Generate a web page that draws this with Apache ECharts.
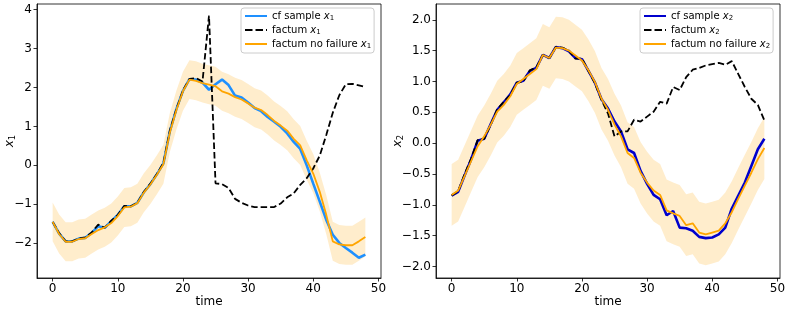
<!DOCTYPE html>
<html><head><meta charset="utf-8">
<script src="https://cdn.jsdelivr.net/npm/echarts@6/dist/echarts.min.js"></script>
<style>html,body{margin:0;padding:0;background:#fff}#c{width:789px;height:313px}</style>
</head><body><div id="c"></div>
<script>
const times = [0,1,2,3,4,5,6,7,8,9,10,11,12,13,14,15,16,17,18,19,20,21,22,23,24,25,26,27,28,29,30,31,32,33,34,35,36,37,38,39,40,41,42,43,44,45,46,47,48];

// left panel (x1)
const cfSample1 = [-1.45,-1.75,-1.95,-1.95,-1.88,-1.86,-1.73,-1.56,-1.60,-1.43,-1.27,-1.05,-1.05,-0.96,-0.69,-0.48,-0.23,0.05,0.88,1.45,1.91,2.21,2.20,2.12,1.94,2.08,2.20,2.06,1.79,1.74,1.61,1.47,1.39,1.24,1.12,0.99,0.82,0.60,0.42,0.00,-0.47,-0.93,-1.40,-1.78,-1.99,-2.12,-2.24,-2.37,-2.29];
const factum1 = [-1.45,-1.74,-1.95,-1.95,-1.88,-1.85,-1.72,-1.52,-1.60,-1.42,-1.27,-1.04,-1.05,-0.96,-0.68,-0.47,-0.22,0.06,0.90,1.45,1.92,2.22,2.24,2.15,3.84,-0.46,-0.48,-0.58,-0.86,-0.96,-1.03,-1.07,-1.07,-1.07,-1.07,-0.98,-0.82,-0.72,-0.50,-0.33,-0.08,0.25,0.78,1.35,1.80,2.08,2.09,2.05,2.01];
const noFailure1 = [-1.45,-1.76,-1.96,-1.96,-1.89,-1.87,-1.76,-1.66,-1.59,-1.48,-1.30,-1.08,-1.06,-0.97,-0.70,-0.49,-0.24,0.03,0.85,1.42,1.90,2.20,2.17,2.11,2.07,2.03,1.90,1.84,1.75,1.69,1.59,1.48,1.42,1.29,1.14,1.02,0.89,0.68,0.51,0.13,-0.21,-0.68,-1.27,-1.95,-2.03,-2.05,-2.05,-1.95,-1.84];
const bandLow1 = [-1.95,-2.26,-2.46,-2.46,-2.39,-2.37,-2.26,-2.16,-2.09,-1.98,-1.80,-1.58,-1.56,-1.47,-1.20,-0.99,-0.74,-0.47,0.35,0.92,1.40,1.70,1.67,1.61,1.57,1.53,1.40,1.34,1.25,1.19,1.09,0.98,0.92,0.79,0.64,0.52,0.39,0.18,0.01,-0.37,-0.71,-1.18,-1.77,-2.45,-2.53,-2.55,-2.55,-2.45,-2.34];
const bandHigh1 = [-0.95,-1.26,-1.46,-1.46,-1.39,-1.37,-1.26,-1.16,-1.09,-0.98,-0.80,-0.58,-0.56,-0.47,-0.20,0.01,0.26,0.53,1.35,1.92,2.40,2.70,2.67,2.61,2.57,2.53,2.40,2.34,2.25,2.19,2.09,1.98,1.92,1.79,1.64,1.52,1.39,1.18,1.01,0.63,0.29,-0.18,-0.77,-1.45,-1.53,-1.55,-1.55,-1.45,-1.34];

// right panel (x2)
const cfSample2 = [-0.85,-0.79,-0.52,-0.26,0.04,0.07,0.31,0.54,0.66,0.79,0.98,1.01,1.17,1.22,1.43,1.38,1.56,1.54,1.49,1.38,1.36,1.17,0.98,0.71,0.56,0.35,0.19,-0.10,-0.16,-0.45,-0.66,-0.84,-0.91,-1.17,-1.10,-1.37,-1.38,-1.42,-1.52,-1.54,-1.53,-1.48,-1.37,-1.06,-0.85,-0.64,-0.37,-0.10,0.07];
const factum2 = [-0.85,-0.78,-0.50,-0.25,0.05,0.07,0.30,0.55,0.67,0.78,0.98,1.00,1.18,1.23,1.43,1.38,1.56,1.55,1.50,1.37,1.37,1.17,0.97,0.70,0.48,0.11,0.19,0.19,0.38,0.35,0.43,0.51,0.67,0.64,0.91,0.86,1.07,1.19,1.22,1.26,1.28,1.30,1.27,1.33,1.12,0.91,0.72,0.62,0.37];
const noFailure2 = [-0.84,-0.77,-0.53,-0.29,-0.05,0.11,0.30,0.51,0.62,0.76,0.96,1.04,1.12,1.20,1.43,1.38,1.55,1.54,1.50,1.42,1.34,1.18,0.99,0.72,0.54,0.30,0.11,-0.16,-0.24,-0.48,-0.64,-0.77,-0.84,-1.09,-1.14,-1.18,-1.33,-1.30,-1.45,-1.48,-1.45,-1.42,-1.30,-1.12,-0.90,-0.69,-0.48,-0.26,-0.08];
const bandLow2 = [-1.34,-1.27,-1.03,-0.79,-0.55,-0.39,-0.20,0.01,0.12,0.26,0.46,0.54,0.62,0.70,0.93,0.88,1.05,1.04,1.00,0.92,0.84,0.68,0.49,0.22,0.04,-0.20,-0.39,-0.66,-0.74,-0.98,-1.14,-1.27,-1.34,-1.59,-1.64,-1.68,-1.83,-1.80,-1.95,-1.98,-1.95,-1.92,-1.80,-1.62,-1.40,-1.19,-0.98,-0.76,-0.58];
const bandHigh2 = [-0.34,-0.27,-0.03,0.21,0.45,0.61,0.80,1.01,1.12,1.26,1.46,1.54,1.62,1.70,1.93,1.88,2.05,2.04,2.00,1.92,1.84,1.68,1.49,1.22,1.04,0.80,0.61,0.34,0.26,0.02,-0.14,-0.27,-0.34,-0.59,-0.64,-0.68,-0.83,-0.80,-0.95,-0.98,-0.95,-0.92,-0.80,-0.62,-0.40,-0.19,0.02,0.24,0.42];

const xTicks = [0,10,20,30,40,50];
const yTicks1 = [-2,-1,0,1,2,3,4];
const yTicks2 = [-2,-1.5,-1,-0.5,0,0.5,1,1.5,2];

const names1 = ['cf sample x1','factum x1','factum no failure x1'];
const names2 = ['cf sample x2','factum x2','factum no failure x2'];

const FONT = 'DejaVu Sans';
const pairs = arr => times.map((t,i)=>[t, arr[i]]);
const minus = s => String(s).replace('-', '\u2212');

const SOLID_ICON = 'path://M0,0h22v2h-22z';
const DASH_ICON = 'path://M0,0h7.5v2h-7.5z M10.5,0h7.5v2h-7.5z M21,0h1v2h-1z';

const legendRich = {
  t:{fontSize:10, fontFamily:FONT, color:'#000', lineHeight:12},
  i:{fontSize:10, fontFamily:FONT, fontStyle:'italic', color:'#000', lineHeight:12},
  s:{fontSize:7, fontFamily:FONT, color:'#000', lineHeight:7, verticalAlign:'bottom'}
};
const legendFmt = name => {
  const m = name.match(/^(.*)x(\d)$/);
  return '{t|' + m[1] + '}{i|x}{s|' + m[2] + '}';
};
const nameRich = {
  i:{fontSize:12, fontFamily:FONT, fontStyle:'italic', color:'#000', lineHeight:14},
  s:{fontSize:8.5, fontFamily:FONT, color:'#000', lineHeight:9, verticalAlign:'bottom'}
};

function makeLegend(names, left){
  return {
    data:[
      {name:names[0], icon:SOLID_ICON},
      {name:names[1], icon:DASH_ICON},
      {name:names[2], icon:SOLID_ICON}
    ],
    left, top:8, orient:'vertical',
    itemWidth:22, itemHeight:2, itemGap:3,
    padding:[3,3,3,4],
    backgroundColor:'rgba(255,255,255,0.8)', borderColor:'#cccccc', borderWidth:1, borderRadius:3,
    formatter: legendFmt,
    textStyle:{fontSize:10, fontFamily:FONT, color:'#000', rich:legendRich},
    selectedMode:false
  };
}

function xAx(gi){
  return {
    type:'value', gridIndex:gi, min:-2.4, max:50.4,
    name:'time', nameLocation:'middle', nameGap:18, nameMoveOverlap:false,
    nameTextStyle:{fontSize:12, fontFamily:FONT, color:'#000'},
    axisLine:{show:true, onZero:false, lineStyle:{color:'#000', width:0.8}},
    axisTick:{show:true, length:3.5, lineStyle:{color:'#000', width:0.8}, customValues:xTicks},
    axisLabel:{fontSize:12, fontFamily:FONT, color:'#000', margin:5, customValues:xTicks, formatter:v=>minus(v)},
    splitLine:{show:false}
  };
}
function yAx(gi, min, max, ticks, fmt, idx, gap){
  return {
    type:'value', gridIndex:gi, min, max,
    name:'{i|x}{s|' + idx + '}', nameLocation:'middle', nameGap:gap, nameMoveOverlap:false,
    nameTextStyle:{rich:nameRich},
    axisLine:{show:true, onZero:false, lineStyle:{color:'#000', width:0.8}},
    axisTick:{show:true, length:3.5, lineStyle:{color:'#000', width:0.8}, customValues:ticks},
    axisLabel:{fontSize:12, fontFamily:FONT, color:'#000', margin:5, customValues:ticks, formatter:fmt},
    splitLine:{show:false}
  };
}

function bandSeries(gi, lo, hi){
  return {
    type:'custom', xAxisIndex:gi, yAxisIndex:gi, data:[[times[0], lo[0]]], silent:true, clip:true,
    renderItem:(params, api)=>{
      const pts = [];
      for (let i=0;i<times.length;i++) pts.push(api.coord([times[i], hi[i]]));
      for (let i=times.length-1;i>=0;i--) pts.push(api.coord([times[i], lo[i]]));
      return {type:'polygon', shape:{points:pts}, style:{fill:'rgba(255,165,0,0.2)'}};
    }
  };
}

function panelSeries(gi, cf, fac, nof, lo, hi, names, cfColor, cfWidth){
  return [
    bandSeries(gi, lo, hi),
    {name:names[0], type:'line', xAxisIndex:gi, yAxisIndex:gi, data:pairs(cf), symbol:'none',
     itemStyle:{color:cfColor}, lineStyle:{color:cfColor, width:cfWidth}},
    {name:names[1], type:'line', xAxisIndex:gi, yAxisIndex:gi, data:pairs(fac), symbol:'none',
     itemStyle:{color:'#000'}, lineStyle:{color:'#000', width:1.8, type:[6.5,3]}},
    {name:names[2], type:'line', xAxisIndex:gi, yAxisIndex:gi, data:pairs(nof), symbol:'none',
     itemStyle:{color:'#ffa500'}, lineStyle:{color:'#ffa500', width:1.8}}
  ];
}

const chart = echarts.init(document.getElementById('c'), null, {renderer:'canvas'});
chart.setOption({
  animation:false,
  backgroundColor:'#fff',
  grid:[
    {left:37, top:4, width:344, height:277, show:true, borderColor:'#000', borderWidth:0.8, backgroundColor:'transparent'},
    {left:436, top:4, width:344, height:277, show:true, borderColor:'#000', borderWidth:0.8, backgroundColor:'transparent'}
  ],
  legend:[makeLegend(names1, 241), makeLegend(names2, 640)],
  xAxis:[xAx(0), xAx(1)],
  yAxis:[
    yAx(0, -2.89, 4.14, yTicks1, v=>minus(v), 1, 20),
    yAx(1, -2.187, 2.256, yTicks2, v=>minus(v.toFixed(1)), 2, 31)
  ],
  series:[
    ...panelSeries(0, cfSample1, factum1, noFailure1, bandLow1, bandHigh1, names1, '#1e90ff', 2.6),
    ...panelSeries(1, cfSample2, factum2, noFailure2, bandLow2, bandHigh2, names2, '#0000cd', 2.6)
  ]
});
</script></body></html>
